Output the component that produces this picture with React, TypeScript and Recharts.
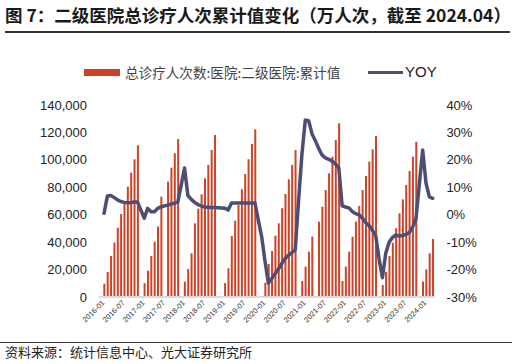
import { ComposedChart, Bar, Line, XAxis, YAxis } from 'recharts';

// 2016-01 ... 2024-04, one category per month
const years = [2016, 2017, 2018, 2019, 2020, 2021, 2022, 2023, 2024];
const monthNames = ['01', '02', '03', '04', '05', '06', '07', '08', '09', '10', '11', '12'];

// cumulative visits (万人次), null where the month has no bar
const bars2016 = [null, 9700, 18200, 29900, 39600, 50500, 60500, 69500, 80400, 90600, 100400, 110600];
const bars2017 = [null, 10000, 19200, 29900, 40300, 51300, 73100, null, 84100, 94300, 104800, 115200];
const bars2018 = [null, 11200, 20400, 31900, 53700, 64400, 74900, 86500, 96300, 107200, 118100, null];
const bars2019 = [null, 10200, 20900, 44500, 55600, 67100, 78500, 89700, 100400, 111600, 122300, null];
const bars2020 = [null, 10400, 24100, 33500, 44700, 53700, 64700, 75100, 85800, 96300, 107200, null];
const bars2021 = [11700, 22100, 33000, 44000, null, 54900, 65800, 78000, 90200, 102300, 114500, 126700];
const bars2022 = [11700, 22100, 33000, 44000, 54900, 66400, 78000, 88200, 98700, 107700, 117400, null];
const bars2023 = [8700, 18400, 29900, 39600, 50100, 61000, 71200, 81700, 91900, 102300, 113200, null];
const bars2024 = [11200, 20200, 31900, 42300];

// YOY (%)
const yoy2016 = [null, 0.5, 6.8, 7.0, 6.3, 5.4, 4.8, 4.5, 4.4, 4.4, 4.6, 4.6];
const yoy2017 = [null, -1.3, 2.3, 1.1, 1.1, 2.3, 2.9, null, 3.5, 3.9, 4.2, 4.6];
const yoy2018 = [null, 17.0, 7.0, 5.6, 4.5, 3.7, 3.2, 2.8, 2.7, 2.6, 2.6, null];
const yoy2019 = [null, 2.4, 1.7, 4.3, 4.3, 4.3, 4.3, 4.3, 4.3, 4.3, 4.3, -2];
const yoy2020 = [-8, -17, -25, -23.3, -21.5, -19.8, -17.8, -16, -14.8, -13.8, -12.8, 5];
const yoy2021 = [22, 34.5, 34.3, 29.5, 27, 24.2, 21.8, 20.7, 20.2, 19.5, 18.5, 17];
const yoy2022 = [3.2, 2.8, 2.5, 1.2, 0.4, 0, -1.2, -2.8, -4.0, -5.6, -7.6, -16];
const yoy2023 = [-23, -14, -10, -8.3, -7.4, -7.8, -7.6, -7.2, -6.5, -4.5, -1.5, 11];
const yoy2024 = [23.6, 11.5, 6.5, 6.0];

const barValues = [
  ...bars2016, ...bars2017, ...bars2018, ...bars2019, ...bars2020,
  ...bars2021, ...bars2022, ...bars2023, ...bars2024,
];
const yoyValues = [
  ...yoy2016, ...yoy2017, ...yoy2018, ...yoy2019, ...yoy2020,
  ...yoy2021, ...yoy2022, ...yoy2023, ...yoy2024,
];

const categories: string[] = [];
for (const y of years) {
  for (const m of monthNames) {
    if (categories.length < barValues.length) categories.push(`${y}-${m}`);
  }
}

const leftTicks = [0, 20000, 40000, 60000, 80000, 100000, 120000, 140000];
const rightTicks = [-30, -20, -10, 0, 10, 20, 30, 40];

const data = categories.map((month, i) => ({
  month,
  value: barValues[i],
  yoy: yoyValues[i],
}));

const BAR_COLOR = '#CC4327';
const LINE_COLOR = '#4D4E75';
const AXIS_FONT = '"Liberation Sans", Arial, sans-serif';
const CJK_FONT = '"Noto Sans CJK SC", "Noto Sans", sans-serif';

function MonthTick({ x, y, payload }: any) {
  const tx = x + 3;
  const ty = y + 3;
  return (
    <text
      x={tx}
      y={ty}
      transform={`rotate(-45 ${tx} ${ty})`}
      textAnchor="end"
      dominantBaseline="middle"
      fontSize={7.5}
      fontFamily={AXIS_FONT}
      fill="#333"
    >
      {payload.value}
    </text>
  );
}

export default function App() {
  return (
    <div
      style={{
        position: 'absolute',
        left: 0,
        top: 0,
        width: 516,
        height: 364,
        background: '#fff',
        overflow: 'hidden',
      }}
    >
      {/* Title */}
      <div
        style={{
          position: 'absolute',
          left: 5,
          top: 4,
          fontFamily: CJK_FONT,
          fontWeight: 700,
          fontSize: 17.5,
          color: '#1a1a1a',
          whiteSpace: 'nowrap',
          lineHeight: '22px',
        }}
      >
        图 7：二级医院总诊疗人次累计值变化（万人次，截至 2024.04）
      </div>
      <div style={{ position: 'absolute', left: 5, top: 31, width: 505, height: 1.5, background: '#333' }} />

      {/* Legend */}
      <div style={{ position: 'absolute', left: 84, top: 69, width: 36, height: 7, background: BAR_COLOR }} />
      <div
        style={{
          position: 'absolute',
          left: 125,
          top: 62,
          fontFamily: CJK_FONT,
          fontSize: 13.6,
          lineHeight: '20px',
          color: '#444',
          whiteSpace: 'nowrap',
        }}
      >
        总诊疗人次数:医院:二级医院:累计值
      </div>
      <div style={{ position: 'absolute', left: 368, top: 70.5, width: 35, height: 3.5, background: LINE_COLOR }} />
      <div
        style={{
          position: 'absolute',
          left: 405,
          top: 62,
          fontFamily: AXIS_FONT,
          fontSize: 15,
          lineHeight: '20px',
          color: '#222',
        }}
      >
        YOY
      </div>

      {/* Chart */}
      <div style={{ position: 'absolute', left: 0, top: 0 }}>
        <ComposedChart
          width={516}
          height={364}
          data={data}
          margin={{ top: 105, right: 21.6, left: 0, bottom: 17 }}
          barCategoryGap={0}
        >
          <XAxis
            dataKey="month"
            interval={5}
            tick={<MonthTick />}
            tickLine={false}
            tickSize={0}
            tickMargin={2}
            height={50}
            axisLine={{ stroke: '#DADADA', strokeWidth: 2 }}
          />
          <YAxis
            yAxisId="left"
            orientation="left"
            width={99}
            domain={[0, 140000]}
            ticks={leftTicks}
            tickFormatter={(v: number) => v.toLocaleString('en-US')}
            axisLine={false}
            tickLine={false}
            tickSize={0}
            tickMargin={12}
            tick={{ fill: '#222', fontSize: 13, fontFamily: AXIS_FONT }}
          />
          <YAxis
            yAxisId="right"
            orientation="right"
            width={60}
            domain={[-30, 40]}
            ticks={rightTicks}
            tickFormatter={(v: number) => `${v}%`}
            axisLine={false}
            tickLine={false}
            tickSize={0}
            tickMargin={12}
            tick={{ fill: '#222', fontSize: 13, fontFamily: AXIS_FONT, textAnchor: 'start' }}
          />
          <Bar
            yAxisId="left"
            dataKey="value"
            fill={BAR_COLOR}
            barSize={2}
            isAnimationActive={false}
          />
          <Line
            yAxisId="right"
            dataKey="yoy"
            type="linear"
            stroke={LINE_COLOR}
            strokeWidth={3.5}
            strokeLinejoin="round"
            strokeLinecap="round"
            dot={false}
            activeDot={false}
            connectNulls
            isAnimationActive={false}
          />
        </ComposedChart>
      </div>

      {/* Footer */}
      <div style={{ position: 'absolute', left: 0, top: 342, width: 512, height: 1.2, background: '#333' }} />
      <div
        style={{
          position: 'absolute',
          left: 5,
          top: 343,
          fontFamily: CJK_FONT,
          fontSize: 13,
          lineHeight: '18px',
          color: '#222',
          whiteSpace: 'nowrap',
        }}
      >
        资料来源：统计信息中心、光大证券研究所
      </div>
    </div>
  );
}
